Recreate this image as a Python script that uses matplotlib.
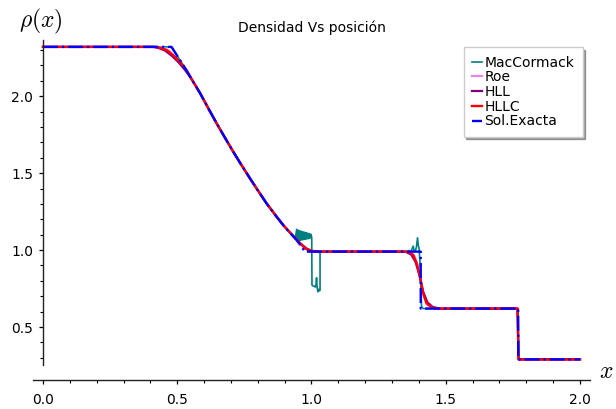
import numpy as np
import matplotlib
matplotlib.use('Agg')
import matplotlib.pyplot as plt

plt.rcParams['mathtext.fontset'] = 'cm'

# Solucion exacta del tubo de choque
x_exacta = [0.0, 0.479, 0.500, 0.523, 0.555, 0.585, 0.616, 0.647, 0.678, 0.709,
            0.740, 0.771, 0.802, 0.833, 0.864, 0.895, 0.920, 0.945, 0.960, 0.976,
            1.407, 1.407, 1.770, 1.770, 2.0]
rho_exacta = [2.32, 2.32, 2.262, 2.200, 2.106, 2.020, 1.920, 1.823, 1.729, 1.638,
              1.550, 1.466, 1.383, 1.303, 1.230, 1.162, 1.112, 1.065, 1.029, 0.99,
              0.99, 0.62, 0.62, 0.29, 0.29]

# HLLC
x_hllc = [0.0, 0.420, 0.436, 0.461, 0.485, 0.510, 0.535, 0.555, 0.585, 0.616, 0.647,
          0.678, 0.709, 0.740, 0.771, 0.802, 0.833, 0.864, 0.895, 0.920, 0.945,
          0.960, 0.975, 0.988, 1.003, 1.030, 1.360, 1.379, 1.392, 1.404, 1.416,
          1.429, 1.448, 1.470, 1.768, 1.771, 2.0]
rho_hllc = [2.32, 2.32, 2.315, 2.299, 2.266, 2.223, 2.169, 2.108, 2.020, 1.920, 1.823,
            1.729, 1.638, 1.550, 1.466, 1.383, 1.303, 1.230, 1.162, 1.114, 1.069,
            1.040, 1.015, 1.000, 0.993, 0.99, 0.99, 0.968, 0.914, 0.827, 0.719,
            0.654, 0.628, 0.62, 0.62, 0.29, 0.29]

# Roe
x_roe = [0.0, 0.435, 0.450, 0.470, 0.490, 0.510, 0.530, 0.555, 0.585, 0.647, 0.709,
         0.771, 0.833, 0.895, 0.945, 0.965, 0.982, 1.000, 1.020, 1.365, 1.382,
         1.395, 1.406, 1.417, 1.428, 1.445, 1.465, 1.768, 1.771, 2.0]
rho_roe = [2.32, 2.32, 2.314, 2.295, 2.258, 2.214, 2.172, 2.108, 2.020, 1.823, 1.638,
           1.466, 1.303, 1.162, 1.066, 1.028, 1.004, 0.993, 0.99, 0.99, 0.966,
           0.905, 0.815, 0.712, 0.652, 0.627, 0.62, 0.62, 0.29, 0.29]

# HLL
x_hll = [0.0, 0.410, 0.430, 0.455, 0.480, 0.505, 0.530, 0.550, 0.585, 0.647, 0.709,
         0.771, 0.833, 0.895, 0.940, 0.960, 0.980, 1.000, 1.030, 1.350, 1.372,
         1.388, 1.402, 1.416, 1.432, 1.452, 1.480, 1.767, 1.772, 2.0]
rho_hll = [2.32, 2.32, 2.313, 2.296, 2.262, 2.220, 2.168, 2.120, 2.020, 1.823, 1.638,
           1.466, 1.303, 1.162, 1.076, 1.042, 1.012, 0.996, 0.99, 0.99, 0.970,
           0.922, 0.838, 0.730, 0.660, 0.630, 0.62, 0.62, 0.29, 0.29]

# MacCormack
x_mac = [0.0, 0.472, 0.482, 0.495, 0.523, 0.555, 0.585, 0.616, 0.647, 0.678, 0.709,
         0.740, 0.771, 0.802, 0.833, 0.864, 0.895, 0.920, 0.940,
         0.945, 0.947, 0.950, 0.953, 0.956, 0.959, 0.962, 0.965, 0.968, 0.971,
         0.974, 0.977, 0.980, 0.983, 0.986, 0.989, 0.992, 0.995, 0.998, 1.001,
         1.002, 1.005, 1.010, 1.014, 1.017, 1.019, 1.021, 1.024, 1.027, 1.030,
         1.032, 1.032, 1.360, 1.365, 1.369, 1.374, 1.379, 1.383, 1.387, 1.391,
         1.395, 1.398, 1.401, 1.405, 1.410, 1.416, 1.769, 1.771, 2.0]
rho_mac = [2.32, 2.32, 2.312, 2.276, 2.200, 2.106, 2.020, 1.920, 1.823, 1.729, 1.638,
           1.550, 1.466, 1.383, 1.303, 1.230, 1.162, 1.112, 1.074,
           1.135, 1.060, 1.130, 1.062, 1.126, 1.064, 1.122, 1.066, 1.119, 1.068,
           1.116, 1.070, 1.113, 1.072, 1.110, 1.075, 1.107, 1.078, 1.103, 1.082,
           0.773, 0.768, 0.764, 0.760, 0.775, 0.820, 0.760, 0.729, 0.745, 0.735,
           0.740, 0.99, 0.99, 0.998, 0.983, 1.004, 1.026, 0.99, 0.995, 1.02,
           1.08, 1.03, 1.01, 0.90, 0.632, 0.62, 0.62, 0.29, 0.29]

fig = plt.figure(figsize=(6.16, 4.09), dpi=100)
ax = fig.add_axes([0.0536, 0.0709, 0.904, 0.831])

ax.plot(x_mac, rho_mac, color='teal', lw=1.2, label='MacCormack')
ax.plot(x_roe, rho_roe, color='violet', lw=1.6, label='Roe')
ax.plot(x_hll, rho_hll, color='purple', lw=1.6, label='HLL')
ax.plot(x_hllc, rho_hllc, color='red', lw=1.7, label='HLLC')
ax.plot(x_exacta, rho_exacta, color='blue', lw=1.7, ls='-.', label='Sol.Exacta')

ax.set_xlim(-0.037, 2.037)
ax.set_ylim(0.156, 2.364)

# ejes al estilo sage: eje y en x=0, separado del eje x
ax.spines['top'].set_visible(False)
ax.spines['right'].set_visible(False)
ax.spines['left'].set_position(('data', 0))
ax.spines['left'].set_bounds(0.253, 2.364)
ax.spines['bottom'].set_bounds(-0.037, 2.037)
for s in ['left', 'bottom']:
    ax.spines[s].set_linewidth(1.0)
    ax.spines[s].set_color('#222222')

ax.set_xticks([0.0, 0.5, 1.0, 1.5, 2.0])
ax.set_xticks(np.arange(0.0, 2.01, 0.1), minor=True)
ax.set_yticks([0.5, 1.0, 1.5, 2.0])
ax.set_yticks(np.arange(0.3, 2.36, 0.1), minor=True)
ax.tick_params(which='major', direction='out', length=3.2, width=0.9, labelsize=10)
ax.tick_params(axis='x', which='major', pad=6)
ax.tick_params(axis='y', which='major', pad=4)
ax.tick_params(which='minor', direction='out', length=2.0, width=0.8)
ax.xaxis.set_major_formatter(matplotlib.ticker.FormatStrFormatter('%.1f'))
ax.yaxis.set_major_formatter(matplotlib.ticker.FormatStrFormatter('%.1f'))

ax.set_title('Densidad Vs posición', fontsize=10, pad=6)
fig.text(41 / 616, 1 - 21 / 409, r'$\rho(x)$', fontsize=17, ha='center', va='center')
fig.text(606 / 616, 1 - 371 / 409, r'$x$', fontsize=17, ha='center', va='center')

leg = ax.legend(loc='upper right', bbox_to_anchor=(0.987, 0.979), borderaxespad=0,
                fontsize=10, handlelength=0.7, handletextpad=0.2, labelspacing=0.05,
                borderpad=0.6, fancybox=False, shadow=True, framealpha=1)
leg.get_frame().set_edgecolor('#cccccc')
leg.get_frame().set_linewidth(1.0)

fig.savefig('out.png', dpi=100)
